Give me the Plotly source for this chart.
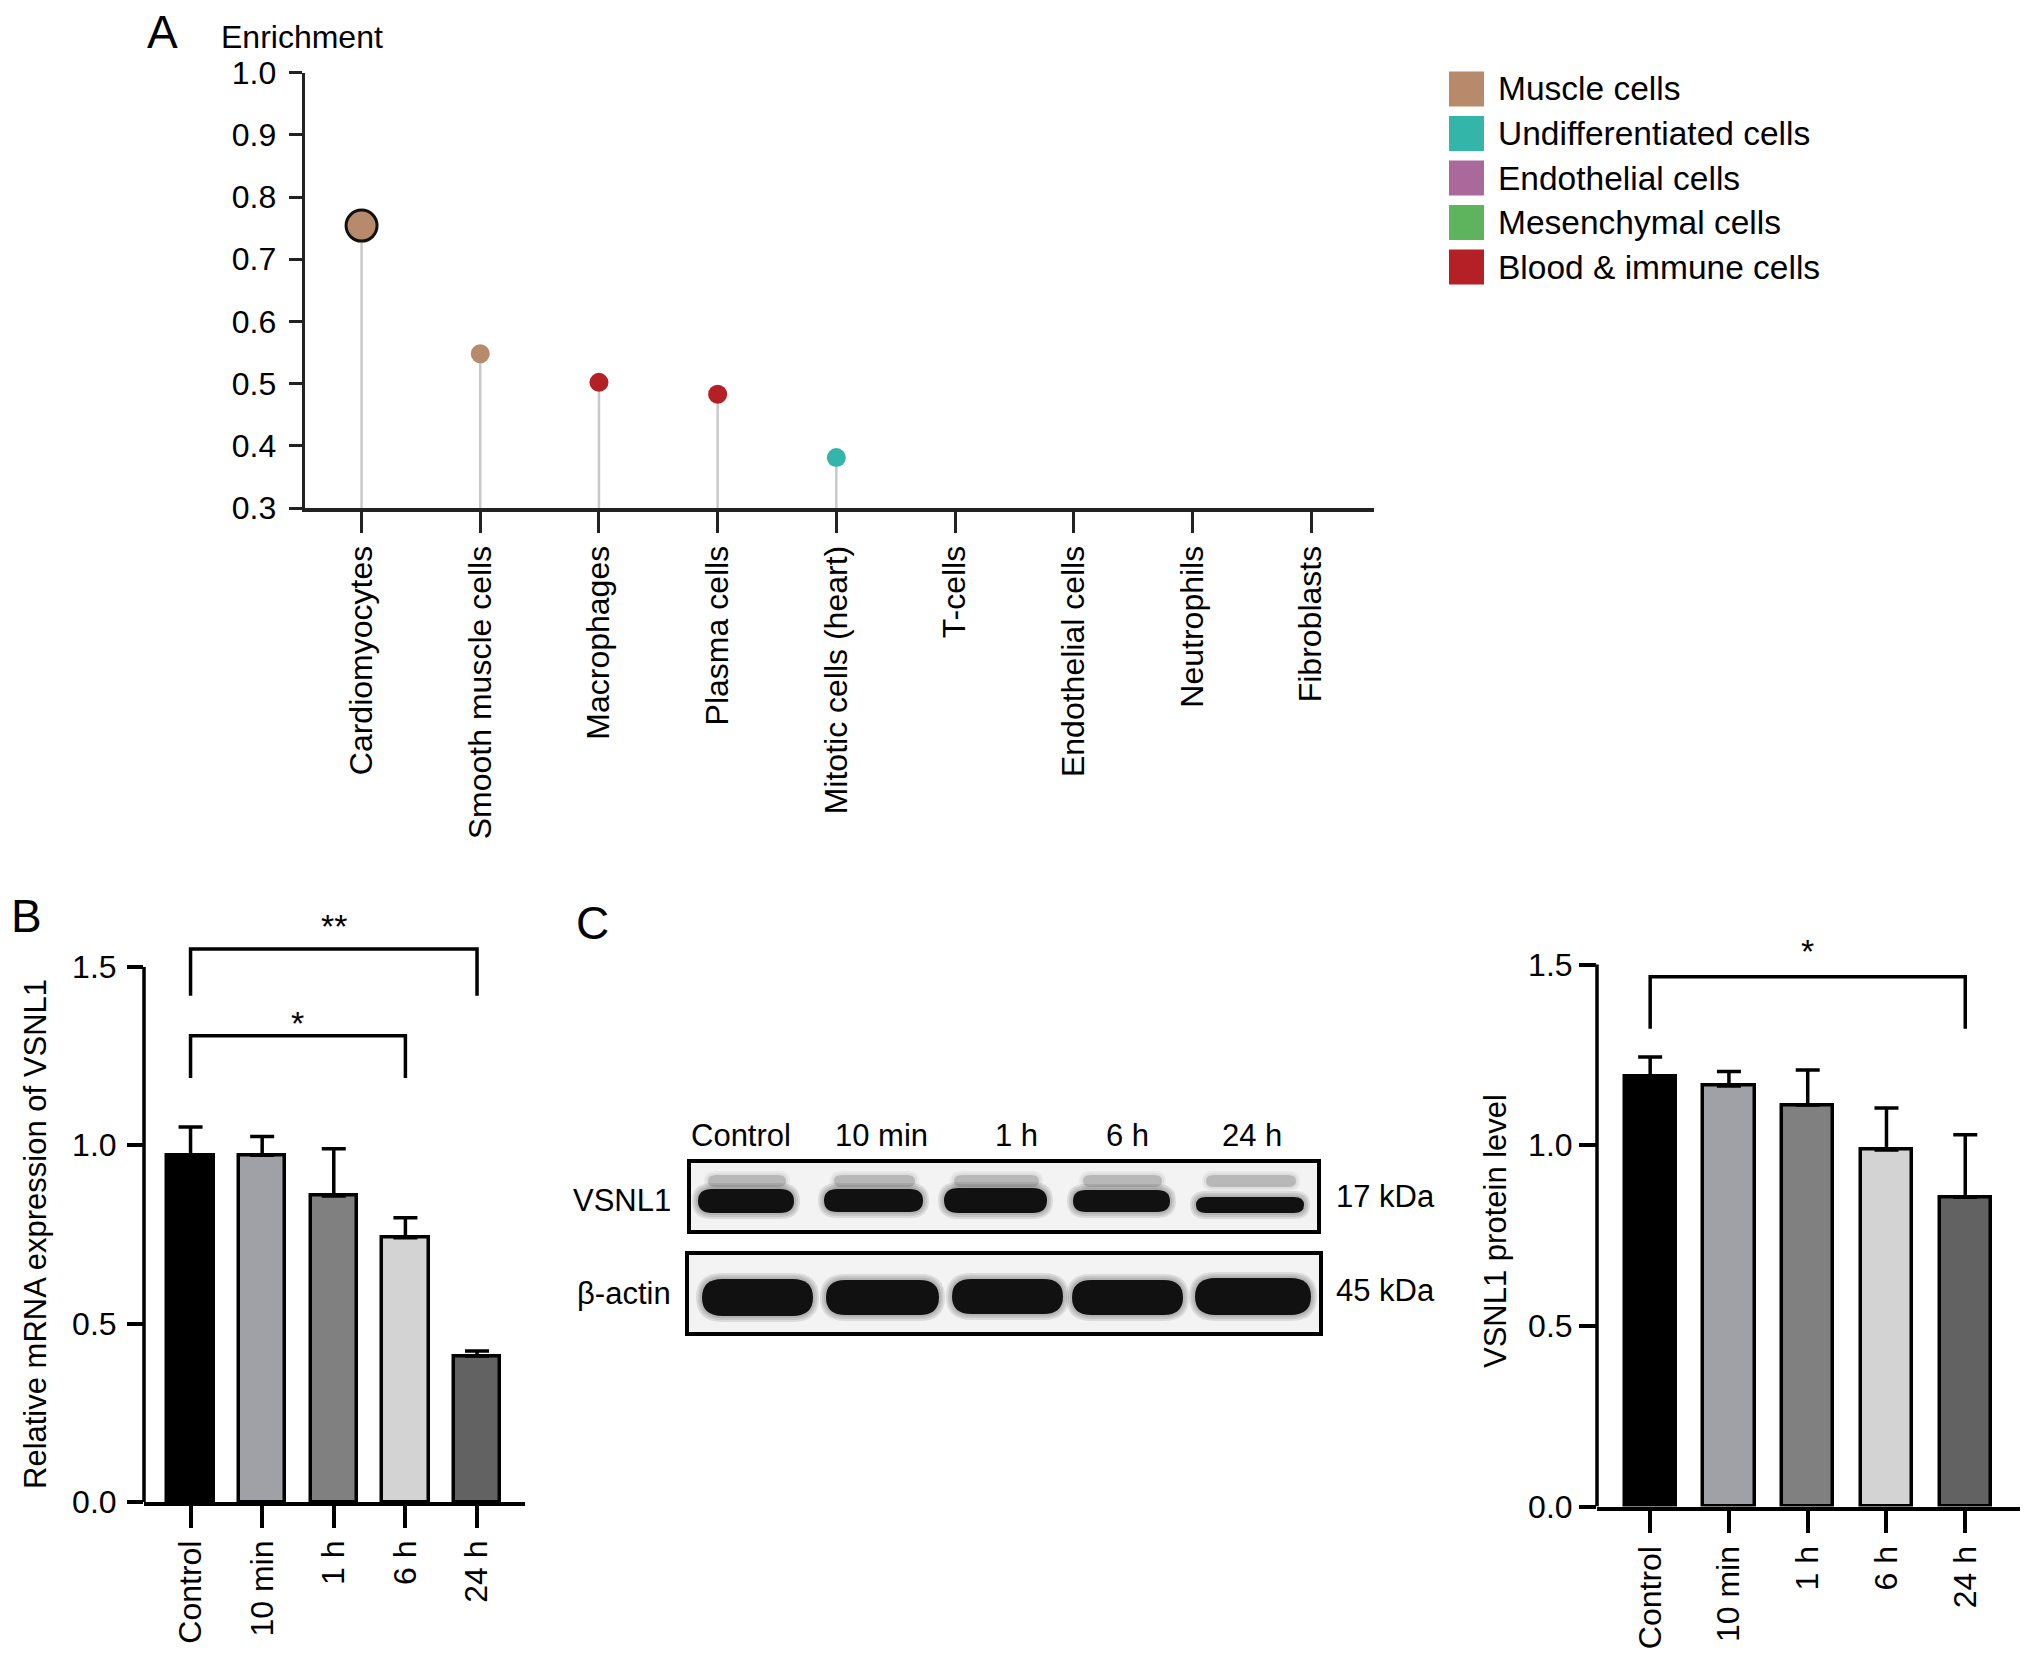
import plotly.graph_objects as go

# ---------------- data ----------------
cell_types = ["Cardiomyocytes", "Smooth muscle cells", "Macrophages", "Plasma cells",
              "Mitotic cells (heart)", "T-cells", "Endothelial cells", "Neutrophils", "Fibroblasts"]
enrichment = [0.754, 0.548, 0.502, 0.483, 0.381, None, None, None, None]
cell_groups = ["Muscle cells", "Muscle cells", "Blood & immune cells", "Blood & immune cells",
               "Undifferentiated cells", "Blood & immune cells", "Endothelial cells",
               "Blood & immune cells", "Mesenchymal cells"]
legend_groups = ["Muscle cells", "Undifferentiated cells", "Endothelial cells",
                 "Mesenchymal cells", "Blood & immune cells"]
group_colors = ["#B68A6B", "#33B5AA", "#A96A9B", "#5DB45D", "#B42025"]
enrich_ticks = [0.3, 0.4, 0.5, 0.6, 0.7, 0.8, 0.9, 1.0]

time_points = ["Control", "10 min", "1 h", "6 h", "24 h"]
mrna_mean = [0.972, 0.972, 0.858, 0.741, 0.409]
mrna_err = [0.079, 0.053, 0.132, 0.056, 0.014]
protein_mean = [1.191, 1.164, 1.111, 0.987, 0.856]
protein_err = [0.053, 0.040, 0.097, 0.116, 0.173]
bar_colors = ["#000000", "#A0A0A7", "#808080", "#D3D3D3", "#626262"]
bar_ticks = [0.0, 0.5, 1.0, 1.5]

mrna_tests = [("Control", "24 h", "**"), ("Control", "6 h", "*")]
protein_tests = [("Control", "24 h", "*")]

blot_rows = ["VSNL1", "β-actin"]
blot_sizes = ["17 kDa", "45 kDa"]

# ---------------- layout helpers ----------------
W, H = 2032, 1662
FONT = "Liberation Sans, Arial, Helvetica, sans-serif"
FS = 32


def fx(p):
    return p / W


def fy(p):
    return 1 - p / H


fig = go.Figure()

# ---------------- Panel A: lollipop ----------------
stem_x, stem_y = [], []
for c, v in zip(cell_types, enrichment):
    if v is not None:
        stem_x += [c, c, None]
        stem_y += [enrich_ticks[0], v, None]
fig.add_trace(go.Scatter(x=stem_x, y=stem_y, mode="lines", line=dict(color="#C9C9C9", width=2.5),
                         hoverinfo="skip", showlegend=False, xaxis="x", yaxis="y"))
vmax = max(v for v in enrichment if v is not None)
for g, col in zip(legend_groups, group_colors):
    xs = [c for c, v, gg in zip(cell_types, enrichment, cell_groups) if gg == g and v is not None]
    ys = [v for c, v, gg in zip(cell_types, enrichment, cell_groups) if gg == g and v is not None]
    if not xs:
        continue
    sizes = [31 if y == vmax else 19 for y in ys]
    lw = [3 if y == vmax else 0 for y in ys]
    fig.add_trace(go.Scatter(x=xs, y=ys, mode="markers", name=g, showlegend=False,
                             marker=dict(color=col, size=sizes, opacity=1,
                                         line=dict(color="#111111", width=lw)),
                             xaxis="x", yaxis="y", cliponaxis=False))

# ---------------- Panels B and C: bars ----------------
def add_bars(means, errs, xa, ya):
    fig.add_trace(go.Bar(x=time_points, y=means, width=0.65, showlegend=False,
                         marker=dict(color=bar_colors, line=dict(color="black", width=3.5)),
                         error_y=dict(type="data", array=errs, arrayminus=[0] * len(errs),
                                      symmetric=False, color="black", thickness=3.5, width=12),
                         xaxis=xa, yaxis=ya))


add_bars(mrna_mean, mrna_err, "x2", "y2")
add_bars(protein_mean, protein_err, "x3", "y3")

annotations = []
shapes = []


def add_brackets(tests, levels, xa, ya):
    for (a, b, lab), (low, top, star_y) in zip(tests, levels):
        fig.add_trace(go.Scatter(x=[a, a, b, b], y=[low, top, top, low], mode="lines",
                                 line=dict(color="black", width=3.5), showlegend=False,
                                 hoverinfo="skip", xaxis=xa, yaxis=ya))
        mid = (time_points.index(a) + time_points.index(b)) / 2
        annotations.append(dict(x=mid, y=star_y, xref=xa, yref=ya, text=lab, showarrow=False,
                                yanchor="middle", yshift=-5, font=dict(size=34, family=FONT, color="black")))


add_brackets(mrna_tests, [(1.419, 1.550, 1.629), (1.189, 1.307, 1.357)], "x2", "y2")
add_brackets(protein_tests, [(1.322, 1.466, 1.551)], "x3", "y3")

# y-axis lines for bar panels (stop at 1.5)
for xa, ya in [("x2", "y2"), ("x3", "y3")]:
    shapes.append(dict(type="line", xref=xa + " domain", yref=ya, x0=0, x1=0, y0=0, y1=bar_ticks[-1],
                       line=dict(color="black", width=3.5)))

# ---------------- axes ----------------
axis_common = dict(showgrid=False, zeroline=False, ticks="outside", color="black", automargin=False,
                   tickfont=dict(family=FONT, size=FS, color="black"))

# Panel A axes
yA_bottom, yA_top = 508, 72.6
fig.update_layout(
    xaxis=dict(domain=[fx(304.6), fx(1374)], range=[-0.48, 8.53], type="category",
               categoryorder="array", categoryarray=cell_types, anchor="y",
               tickangle=-90, ticklen=21, tickwidth=3, tickcolor="#222",
               showline=True, linewidth=4, linecolor="#222", **axis_common),
    yaxis=dict(domain=[fy(yA_bottom), fy(yA_top)], range=[0.3, 1.0], anchor="x",
               tickvals=enrich_ticks, ticktext=[f"{t:.1f}" for t in enrich_ticks],
               ticklen=13, tickwidth=3, tickcolor="#222", ticklabelstandoff=6,
               showline=True, linewidth=3, linecolor="#222", **axis_common),
)

# Panel B axes
B_zero, B_unit, B_top = 1502, 356.7, 1.72
fig.update_layout(
    xaxis2=dict(domain=[fx(144), fx(525)], range=[-0.65, 4.67], type="category",
                categoryorder="array", categoryarray=time_points, anchor="y2",
                tickangle=-90, ticklen=22, tickwidth=3.5, tickcolor="black",
                showline=True, linewidth=3.5, linecolor="black", **axis_common),
    yaxis2=dict(domain=[fy(B_zero), fy(B_zero - B_top * B_unit)], range=[0, B_top], anchor="x2",
                tickvals=bar_ticks, ticktext=[f"{t:.1f}" for t in bar_ticks], ticklabelstandoff=4,
                ticklen=16, tickwidth=3.5, tickcolor="black", showline=False, **axis_common),
)

# Panel C axes
C_zero, C_unit, C_top = 1506.5, 361.3, 1.63
fig.update_layout(
    xaxis3=dict(domain=[fx(1597), fx(2019.6)], range=[-0.675, 4.69], type="category",
                categoryorder="array", categoryarray=time_points, anchor="y3",
                tickangle=-90, ticklen=23, tickwidth=3.5, tickcolor="black",
                showline=True, linewidth=3.5, linecolor="black", **axis_common),
    yaxis3=dict(domain=[fy(C_zero), fy(C_zero - C_top * C_unit)], range=[0, C_top], anchor="x3",
                tickvals=bar_ticks, ticktext=[f"{t:.1f}" for t in bar_ticks],
                ticklen=17, tickwidth=3.5, tickcolor="black", showline=False, **axis_common),
)

# ---------------- text annotations ----------------
def txt(x, y, s, size=FS, xanchor="center", yanchor="middle", angle=0):
    annotations.append(dict(x=fx(x), y=fy(y), xref="paper", yref="paper", text=s, showarrow=False,
                            xanchor=xanchor, yanchor=yanchor, textangle=angle,
                            font=dict(family=FONT, size=size, color="black")))


txt(162, 32, "A", size=46)
txt(26, 916, "B", size=46)
txt(592, 923, "C", size=46)
txt(219, 37, "Enrichment", size=32, xanchor="left")
txt(35, 1234, "Relative mRNA expression of VSNL1", size=31, angle=-90)
txt(1495, 1231, "VSNL1 protein level", size=31, angle=-90)

# legend (manual square swatches)
leg_x0, leg_y0, leg_pitch, sw = 1449, 89, 44.5, 35
for i, (g, col) in enumerate(zip(legend_groups, group_colors)):
    cy = leg_y0 + i * leg_pitch
    shapes.append(dict(type="rect", xref="paper", yref="paper",
                       x0=fx(leg_x0), x1=fx(leg_x0 + sw), y0=fy(cy + sw / 2), y1=fy(cy - sw / 2),
                       fillcolor=col, line=dict(width=0)))
    txt(leg_x0 + sw + 12, cy, g, size=33.5, xanchor="left")

# ---------------- western blot illustration ----------------
def pill(x0, x1, y0, y1):
    r = (y1 - y0) / 2
    m = (y0 + y1) / 2
    path = f"M {fx(x0 + r)},{fy(y0)} L {fx(x1 - r)},{fy(y0)} "
    path += f"Q {fx(x1 + 2)},{fy(y0)} {fx(x1 + 2)},{fy(m)} Q {fx(x1 + 2)},{fy(y1)} {fx(x1 - r)},{fy(y1)} "
    path += f"L {fx(x0 + r)},{fy(y1)} Q {fx(x0 - 2)},{fy(y1)} {fx(x0 - 2)},{fy(m)} "
    path += f"Q {fx(x0 - 2)},{fy(y0)} {fx(x0 + r)},{fy(y0)} Z"
    return path


def box(x0, x1, y0, y1):
    shapes.append(dict(type="rect", xref="paper", yref="paper", x0=fx(x0), x1=fx(x1), y0=fy(y1), y1=fy(y0),
                       fillcolor="#F3F3F3", line=dict(color="black", width=4), layer="below"))


def band(x0, x1, y0, y1, col="#0a0a0a", op=1.0, spread=0):
    for k in range(spread, 0, -2):
        shapes.append(dict(type="path", xref="paper", yref="paper",
                           path=pill(x0 - k, x1 + k, y0 - k, y1 + k),
                           fillcolor="#303030", opacity=0.12 * op, line=dict(width=0)))
    shapes.append(dict(type="path", xref="paper", yref="paper", path=pill(x0, x1, y0, y1),
                       fillcolor=col, opacity=op, line=dict(width=0)))


box(689, 1319, 1161, 1232)
box(687, 1321, 1253, 1334)

vsnl_lanes = [(700, 792, 1189, 1213), (826, 921, 1189, 1212), (946, 1045, 1188, 1213),
              (1075, 1168, 1190, 1212), (1198, 1302, 1197, 1213)]
actin_lanes = [(704, 811, 1279, 1316), (828, 937, 1280, 1315), (954, 1061, 1279, 1314),
               (1074, 1181, 1280, 1315), (1197, 1309, 1278, 1315)]
for (x0, x1, y0, y1) in vsnl_lanes:
    band(x0 + 10, x1 - 8, 1175, 1187, col="#8a8a8a", op=0.45, spread=4)
    band(x0, x1, y0, y1, col="#111111", spread=6)
for (x0, x1, y0, y1) in actin_lanes:
    band(x0, x1, y0, y1, col="#111111", spread=6)

lane_label_x = [741, 881, 1016, 1127, 1252]
for lx, lab in zip(lane_label_x, time_points):
    txt(lx, 1135, lab, size=31)
txt(673, 1200, blot_rows[0], size=31, xanchor="right")
txt(673, 1293, blot_rows[1], size=31, xanchor="right")
txt(1334, 1196, blot_sizes[0], size=31, xanchor="left")
txt(1334, 1290, blot_sizes[1], size=31, xanchor="left")

fig.update_layout(width=W, height=H, margin=dict(l=0, r=0, t=0, b=0, autoexpand=False),
                  paper_bgcolor="white", plot_bgcolor="white", template="none",
                  font=dict(family=FONT, size=FS, color="black"),
                  annotations=annotations, shapes=shapes, showlegend=False, bargap=0)

fig.write_html("out.html", config={"displayModeBar": False},
               post_script="document.body.style.margin='0';document.body.style.overflow='hidden';")
